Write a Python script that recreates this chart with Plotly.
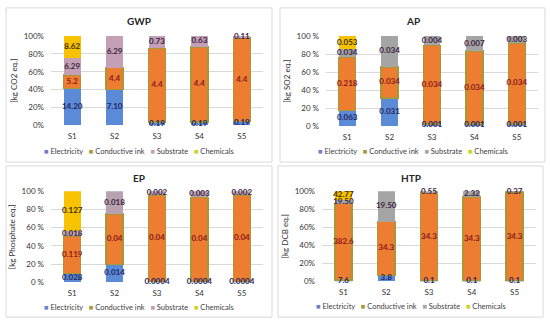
import plotly.graph_objects as go

categories = ["S1", "S2", "S3", "S4", "S5"]
series_names = ["Electricity", "Conductive ink", "Substrate", "Chemicals"]
panel_titles = ["GWP", "AP", "EP", "HTP"]
y_titles = ["[kg CO2 eq.]", "[kg SO2 eq.]", "[kg Phosphate eq.]", "[kg DCB eq.]"]
y_tickvals = [0, 20, 40, 60, 80, 100]
ticks_nospace = ["0%", "20%", "40%", "60%", "80%", "100%"]
ticks_space = ["0 %", "20 %", "40 %", "60 %", "80 %", "100 %"]

# GWP
gwp_electricity = [14.20, 7.10, 0.19, 0.19, 0.19]
gwp_ink = [5.2, 4.4, 4.4, 4.4, 4.4]
gwp_substrate = [6.29, 6.29, 0.73, 0.63, 0.11]
gwp_chemicals = [8.62, 0, 0, 0, 0]
gwp_electricity_lbl = ["14.20", "7.10", "0.19", "0.19", "0.19"]
gwp_ink_lbl = ["5.2", "4.4", "4.4", "4.4", "4.4"]
gwp_substrate_lbl = ["6.29", "6.29", "0.73", "0.63", "0.11"]
gwp_chemicals_lbl = ["8.62", "", "", "", ""]

# AP
ap_electricity = [0.063, 0.031, 0.001, 0.001, 0.001]
ap_ink = [0.218, 0.034, 0.034, 0.034, 0.034]
ap_substrate = [0.034, 0.034, 0.004, 0.007, 0.003]
ap_chemicals = [0.053, 0, 0, 0, 0]
ap_electricity_lbl = ["0.063", "0.031", "0.001", "0.001", "0.001"]
ap_ink_lbl = ["0.218", "0.034", "0.034", "0.034", "0.034"]
ap_substrate_lbl = ["0.034", "0.034", "0.004", "0.007", "0.003"]
ap_chemicals_lbl = ["0.053", "", "", "", ""]

# EP
ep_electricity = [0.028, 0.014, 0.0004, 0.0004, 0.0004]
ep_ink = [0.119, 0.04, 0.04, 0.04, 0.04]
ep_substrate = [0.018, 0.018, 0.002, 0.003, 0.002]
ep_chemicals = [0.127, 0, 0, 0, 0]
ep_electricity_lbl = ["0.028", "0.014", "0.0004", "0.0004", "0.0004"]
ep_ink_lbl = ["0.119", "0.04", "0.04", "0.04", "0.04"]
ep_substrate_lbl = ["0.018", "0.018", "0.002", "0.003", "0.002"]
ep_chemicals_lbl = ["0.127", "", "", "", ""]

# HTP
htp_electricity = [7.6, 3.8, 0.1, 0.1, 0.1]
htp_ink = [382.6, 34.3, 34.3, 34.3, 34.3]
htp_substrate = [19.50, 19.50, 0.55, 2.32, 0.37]
htp_chemicals = [42.77, 0, 0, 0, 0]
htp_electricity_lbl = ["7.6", "3.8", "0.1", "0.1", "0.1"]
htp_ink_lbl = ["382.6", "34.3", "34.3", "34.3", "34.3"]
htp_substrate_lbl = ["19.50", "19.50", "0.55", "2.32", "0.37"]
htp_chemicals_lbl = ["42.77", "", "", "", ""]

# styling
FONT = "Lato"
W, H = 550, 327
electricity_color = "#5B8AD6"
ink_color = "#ED7D31"
ink_line = "#A8983A"
substrate_colors = ["#C3A0B6", "#A5A5A5", "#B9A2B0", "#A5A5A5"]
chemicals_color = "#F7C200"
label_colors = ["#24245E", "#8B1A1A", "#3B2340", "#3D2B00"]
legend_colors = ["#6A80D2", "#A8983A", None, "#D2D21E"]

panel_values = [
    [gwp_electricity, gwp_ink, gwp_substrate, gwp_chemicals],
    [ap_electricity, ap_ink, ap_substrate, ap_chemicals],
    [ep_electricity, ep_ink, ep_substrate, ep_chemicals],
    [htp_electricity, htp_ink, htp_substrate, htp_chemicals],
]
panel_labels = [
    [gwp_electricity_lbl, gwp_ink_lbl, gwp_substrate_lbl, gwp_chemicals_lbl],
    [ap_electricity_lbl, ap_ink_lbl, ap_substrate_lbl, ap_chemicals_lbl],
    [ep_electricity_lbl, ep_ink_lbl, ep_substrate_lbl, ep_chemicals_lbl],
    [htp_electricity_lbl, htp_ink_lbl, htp_substrate_lbl, htp_chemicals_lbl],
]
panel_ticktext = [ticks_nospace, ticks_space, ticks_space, ticks_nospace]

# pixel layout (x0, x1, ytop, ybottom) of each plot area, and panel boxes
plot_px = [(51, 263, 32, 124), (326, 538, 32, 125), (51, 263, 192, 286), (322, 536, 192, 285)]
box_px = [(6, 272, 3, 162), (280, 545, 3, 162), (6, 272, 166, 322), (278, 543, 166, 322)]
title_y = [17, 17, 178, 178]
legend_y = [151, 151, 312, 311]

def px_x(v):
    return v / W

def px_y(v):
    return 1 - v / H

fig = go.Figure()
layout_axes = {}
annotations = []
shapes = []
label_traces = []

for i in range(4):
    n = "" if i == 0 else str(i + 1)
    xa, ya = "x" + n, "y" + n
    colors = [electricity_color, ink_color, substrate_colors[i], chemicals_color]
    vals = panel_values[i]
    totals = [sum(vals[s][c] for s in range(4)) for c in range(len(categories))]
    bottoms = [0.0] * len(categories)
    for s in range(4):
        fig.add_trace(go.Bar(
            x=categories, y=vals[s], name=series_names[s],
            xaxis=xa, yaxis=ya,
            marker=dict(color=colors[s],
                        line=dict(color=ink_line if s == 1 else colors[s], width=1.5 if s == 1 else 0)),
            showlegend=False, hoverinfo="x+y+name",
        ))
        # value labels at the middle of each segment (percent of the stack)
        mids = [(bottoms[c] + vals[s][c] / 2) / totals[c] * 100 for c in range(len(categories))]
        bottoms = [bottoms[c] + vals[s][c] for c in range(len(categories))]
        label_traces.append(go.Scatter(
            x=categories, y=mids, text=panel_labels[i][s], mode="text",
            xaxis=xa, yaxis=ya, cliponaxis=False, showlegend=False, hoverinfo="skip",
            textposition="middle center",
            textfont=dict(family=FONT, size=8, color=label_colors[s], weight="bold"),
        ))
    x0, x1, yt, yb = plot_px[i]
    layout_axes["xaxis" + n] = dict(
        domain=[px_x(x0), px_x(x1)], anchor=ya, showgrid=False, showline=False, zeroline=False,
        ticks="", ticklabelstandoff=5,
        tickfont=dict(family=FONT, size=8, color="#333333"), fixedrange=True,
    )
    layout_axes["yaxis" + n] = dict(
        domain=[px_y(yb), px_y(yt)], anchor=xa, range=[0, 100],
        tickvals=y_tickvals, ticktext=panel_ticktext[i],
        showgrid=True, gridcolor="#D9D9D9", gridwidth=1, zeroline=False, showline=False,
        ticks="", ticklabelstandoff=6,
        tickfont=dict(family=FONT, size=8, color="#333333"),
        title=dict(text=y_titles[i], font=dict(family=FONT, size=8, color="#333333"), standoff=4),
        fixedrange=True,
    )
    bx0, bx1, by0, by1 = box_px[i]
    shapes.append(dict(type="rect", xref="paper", yref="paper",
                       x0=px_x(bx0), x1=px_x(bx1), y0=px_y(by1), y1=px_y(by0),
                       line=dict(color="#D9D9D9", width=1), fillcolor="rgba(0,0,0,0)", layer="below"))
    cx = (bx0 + bx1) / 2
    annotations.append(dict(text="<b>" + panel_titles[i] + "</b>", x=px_x(cx), y=px_y(title_y[i]),
                            xref="paper", yref="paper", showarrow=False, xanchor="center", yanchor="middle",
                            font=dict(family=FONT, size=10, color="#262626")))
    leg_cols = [legend_colors[0], legend_colors[1], substrate_colors[i], legend_colors[3]]
    sp = "\u00a0" * 3
    parts = []
    for s in range(4):
        parts.append('<span style="color:%s">■</span>\u00a0%s' % (leg_cols[s], series_names[s]))
    annotations.append(dict(text=sp.join(parts), x=px_x(cx), y=px_y(legend_y[i]),
                            xref="paper", yref="paper", showarrow=False, xanchor="center", yanchor="middle",
                            font=dict(family=FONT, size=7.5, color="#404040")))

for t in label_traces:
    fig.add_trace(t)

fig.update_layout(
    width=W, height=H, margin=dict(l=0, r=0, t=0, b=0),
    paper_bgcolor="white", plot_bgcolor="white",
    barmode="stack", barnorm="percent", bargap=0.6,
    annotations=annotations, shapes=shapes,
    font=dict(family=FONT, size=8, color="#333333"),
    **layout_axes,
)

fig.write_html(
    "out.html",
    config={"displayModeBar": False},
    post_script="document.body.style.margin='0';document.body.style.overflow='hidden';",
)
